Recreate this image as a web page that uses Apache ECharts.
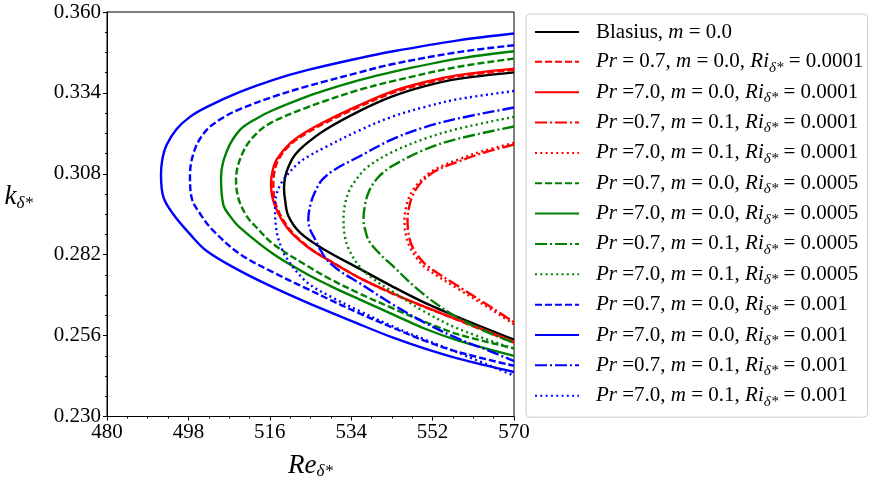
<!DOCTYPE html>
<html>
<head>
<meta charset="utf-8">
<script src="https://cdn.jsdelivr.net/npm/echarts@6/dist/echarts.min.js"></script>
</head>
<body style="margin:0;background:#fff;">
<div id="container" style="width:870px;height:485px;"></div>
<script type="text/javascript">
    // neutral curves, [Re, k] (upper branch -> nose -> lower branch)
    var blasius = [[570, 0.3406], [557.69, 0.3385], [550.32, 0.3362], [542.96, 0.3328], [535.57, 0.3280], [528.21, 0.3221], [524.01, 0.3176], [521.58, 0.3141], [520.25, 0.3107], [519.43, 0.3072], [519.14, 0.3033],
        [519.36, 0.2998], [520.09, 0.2945], [522.68, 0.2891], [528.21, 0.2835], [535.57, 0.2777], [542.96, 0.2719], [550.32, 0.2665], [557.69, 0.2619], [570, 0.2547]];
    var pr07m0ri1 = [[570, 0.3414], [557.69, 0.3393], [550.32, 0.3370], [542.96, 0.3339], [535.57, 0.3294], [528.21, 0.3243], [524.16, 0.3211], [520.47, 0.3173], [517.93, 0.3126], [517.04, 0.3088], [516.78, 0.3043],
        [517.48, 0.2976], [520.47, 0.2900], [524.89, 0.2841], [528.54, 0.2807], [535.64, 0.2747], [543.09, 0.2695], [550.43, 0.2651], [557.73, 0.2609], [570, 0.2537]];
    var pr7m0ri1 = [[570, 0.3418], [557.69, 0.3397], [550.32, 0.3375], [542.96, 0.3344], [535.57, 0.3299], [528.21, 0.3248], [524.16, 0.3216], [520.47, 0.3178], [517.53, 0.3126], [516.60, 0.3088], [516.27, 0.3046],
        [517.15, 0.2977], [520.09, 0.2902], [524.52, 0.2843], [528.21, 0.2809], [535.51, 0.2748], [543.02, 0.2697], [550.32, 0.2652], [557.62, 0.2611], [570, 0.2540]];
    var pr07m1ri1 = [[570, 0.3174], [563.81, 0.3150], [557.95, 0.3121], [552.53, 0.3088], [549.22, 0.3048], [547.56, 0.3009], [546.78, 0.2972], [546.45, 0.2931],
        [546.67, 0.2889], [547.34, 0.2852], [548.78, 0.2816], [550.99, 0.2782], [558.06, 0.2715], [565.36, 0.2647], [570, 0.2603]];
    var pr7m1ri1 = [[570, 0.3179], [563.59, 0.3155], [557.69, 0.3126], [552.16, 0.3091], [548.78, 0.3049], [547.0, 0.3011], [546.12, 0.2972], [545.79, 0.2931],
        [546.01, 0.2889], [546.78, 0.2851], [548.33, 0.2812], [550.54, 0.2777], [557.69, 0.2710], [565.07, 0.2643], [570, 0.2596]];
    var pr07m0ri5 = [[570, 0.3450], [557.69, 0.3424], [542.96, 0.3377], [535.57, 0.3349], [528.21, 0.3314], [524.16, 0.3293], [516.78, 0.3248], [513.10, 0.3210], [510.14, 0.3152], [508.53, 0.3062],
        [509.04, 0.3002], [510.89, 0.2944], [513.10, 0.2907], [516.78, 0.2854], [524.16, 0.2785], [529.31, 0.2742], [535.57, 0.2697], [542.96, 0.2649], [550.32, 0.2604], [557.69, 0.2564], [570, 0.2519]];
    var pr7m0ri5 = [[570, 0.3474], [557.69, 0.3450], [542.96, 0.3407], [535.57, 0.3380], [528.21, 0.3348], [524.16, 0.3328], [516.78, 0.3285], [513.10, 0.3258], [509.41, 0.3221], [506.47, 0.3152], [505.21, 0.3068],
        [505.72, 0.2981], [507.20, 0.2944], [509.41, 0.2907], [516.78, 0.2822], [524.16, 0.2758], [529.31, 0.2720], [535.57, 0.2678], [542.96, 0.2630], [550.32, 0.2582], [557.69, 0.2544], [570, 0.2495]];
    var pr07m1ri5 = [[570, 0.3232], [557.69, 0.3193], [550.32, 0.3158], [542.96, 0.3104], [539.93, 0.3068], [537.94, 0.3024], [537.05, 0.2979], [536.72, 0.2934],
        [537.05, 0.2902], [537.94, 0.2864], [540.37, 0.2822], [542.96, 0.2787], [548.84, 0.2707], [555.48, 0.2636], [562.86, 0.2579], [570, 0.2537]];
    var pr7m1ri5 = [[570, 0.3263], [557.69, 0.3225], [550.32, 0.3193], [542.96, 0.3149], [537.43, 0.3100], [534.84, 0.3056], [533.52, 0.3024], [532.63, 0.2982], [532.30, 0.2934],
        [532.52, 0.2886], [533.29, 0.2844], [535.57, 0.2787], [538.89, 0.2742], [542.96, 0.2703], [550.32, 0.2636], [557.69, 0.2582], [570, 0.2518]];
    var pr07m0ri10 = [[570, 0.3493], [557.69, 0.3471], [542.96, 0.3432], [535.57, 0.3405], [528.21, 0.3377], [524.16, 0.3361], [516.78, 0.3328], [509.41, 0.3288], [505.72, 0.3261], [502.05, 0.3221], [499.46, 0.3160], [498.35, 0.3075],
        [498.73, 0.3002], [500.94, 0.2944], [503.51, 0.2897], [509.41, 0.2822], [516.78, 0.2763], [524.16, 0.2711], [528.76, 0.2679], [535.57, 0.2633], [542.96, 0.2587], [550.32, 0.2543], [557.69, 0.2507], [570, 0.2463]];
    var pr7m0ri10 = [[570, 0.3531], [557.71, 0.3509], [543.02, 0.3473], [535.59, 0.3451], [524.23, 0.3413], [516.80, 0.3382], [509.41, 0.3343], [502.12, 0.3295], [498.35, 0.3263], [495.41, 0.3224], [493.20, 0.3173], [492.23, 0.3126], [491.94, 0.3078],
        [492.49, 0.3004], [494.66, 0.2950], [498.35, 0.2886], [502.05, 0.2832], [509.41, 0.2768], [516.78, 0.2715], [524.16, 0.2667], [535.57, 0.2598], [542.96, 0.2555], [550.32, 0.2518], [557.69, 0.2486], [570, 0.2443]];
    var pr07m1ri10 = [[570, 0.3293], [557.69, 0.3258], [550.32, 0.3230], [542.96, 0.3190], [535.57, 0.3134], [530.42, 0.3094], [527.48, 0.3059], [525.78, 0.3014], [525.0, 0.2982], [524.52, 0.2934],
        [524.89, 0.2902], [525.78, 0.2876], [527.10, 0.2838], [528.65, 0.2803], [531.53, 0.2767], [535.57, 0.2731], [542.96, 0.2662], [550.32, 0.2601], [557.69, 0.2550], [565.07, 0.2508], [570, 0.2478]];
    var pr7m1ri10 = [[570, 0.3346], [557.69, 0.3320], [550.32, 0.3295], [542.96, 0.3263], [535.57, 0.3218], [528.21, 0.3165], [524.89, 0.3139], [522.24, 0.3113], [519.59, 0.3072], [518.27, 0.3043], [517.48, 0.3014], [517.15, 0.2976],
        [517.37, 0.2908], [518.04, 0.2864], [519.59, 0.2812], [524.16, 0.2732], [530.04, 0.2681], [535.57, 0.2641], [542.96, 0.2591], [550.32, 0.2547], [557.69, 0.2505], [570, 0.2431]];

    var curveNames = [
        'Blasius, m = 0.0',
        'Pr = 0.7, m = 0.0, Riδ* = 0.0001',
        'Pr =7.0, m = 0.0, Riδ* = 0.0001',
        'Pr =0.7, m = 0.1, Riδ* = 0.0001',
        'Pr =7.0, m = 0.1, Riδ* = 0.0001',
        'Pr =0.7, m = 0.0, Riδ* = 0.0005',
        'Pr =7.0, m = 0.0, Riδ* = 0.0005',
        'Pr =0.7, m = 0.1, Riδ* = 0.0005',
        'Pr =7.0, m = 0.1, Riδ* = 0.0005',
        'Pr =0.7, m = 0.0, Riδ* = 0.001',
        'Pr =7.0, m = 0.0, Riδ* = 0.001',
        'Pr =0.7, m = 0.1, Riδ* = 0.001',
        'Pr =7.0, m = 0.1, Riδ* = 0.001'
    ];
    var curveData = [blasius, pr07m0ri1, pr7m0ri1, pr07m1ri1, pr7m1ri1, pr07m0ri5, pr7m0ri5, pr07m1ri5, pr7m1ri5, pr07m0ri10, pr7m0ri10, pr07m1ri10, pr7m1ri10];
    var curveColors = ['#000000', '#ff0000', '#ff0000', '#ff0000', '#ff0000', '#008000', '#008000', '#008000', '#008000', '#0000ff', '#0000ff', '#0000ff', '#0000ff'];
    var curveDash = ['solid', 'dashed', 'solid', 'dashdot', 'dotted', 'dashed', 'solid', 'dashdot', 'dotted', 'dashed', 'solid', 'dashdot', 'dotted'];

    var dashes = {
        solid: 'solid',
        dashed: [7, 3],
        dashdot: [12, 3, 2, 3],
        dotted: [2, 3.3]
    };
    var serif = 'Liberation Serif';

    var dom = document.getElementById('container');
    var myChart = echarts.init(dom, null, { renderer: 'canvas' });

    var series = [];
    for (var i = 0; i < curveData.length; i++) {
        series.push({
            name: curveNames[i],
            type: 'line',
            data: curveData[i],
            symbol: 'none',
            showSymbol: false,
            smooth: 0.35,
            animation: false,
            lineStyle: { color: curveColors[i], width: 2.4, type: dashes[curveDash[i]], cap: 'butt' },
            itemStyle: { color: curveColors[i] }
        });
    }

    var option = {
        animation: false,
        grid: {
            left: 107, right: 356, top: 12, bottom: 67,
            show: true, borderColor: '#000', borderWidth: 1
        },
        xAxis: {
            type: 'value',
            min: 480, max: 570, interval: 18,
            name: '{i|Re}{s|δ*}',
            nameLocation: 'middle',
            nameGap: 34,
            nameTextStyle: {
                rich: {
                    i: { fontFamily: serif, fontStyle: 'italic', fontSize: 27, lineHeight: 30, color: '#000' },
                    s: { fontFamily: serif, fontStyle: 'italic', fontSize: 17, lineHeight: 18, padding: [12, 0, 0, 0], color: '#000' }
                }
            },
            axisLine: { show: true, lineStyle: { color: '#000', width: 1 } },
            axisTick: { show: true, length: 4, lineStyle: { color: '#000' } },
            minorTick: { show: true, splitNumber: 4, length: 2, lineStyle: { color: '#000' } },
            splitLine: { show: false },
            axisLabel: { fontFamily: serif, fontSize: 21, color: '#000', margin: 5 }
        },
        yAxis: {
            type: 'value',
            min: 0.230, max: 0.360, interval: 0.026,
            name: '{i|k}{s|δ*}',
            nameLocation: 'middle',
            nameRotate: 0,
            nameGap: 74,
            nameTextStyle: {
                padding: [0, 0, 34, 0],
                rich: {
                    i: { fontFamily: serif, fontStyle: 'italic', fontSize: 27, lineHeight: 30, color: '#000' },
                    s: { fontFamily: serif, fontStyle: 'italic', fontSize: 17, lineHeight: 18, padding: [12, 0, 0, 0], color: '#000' }
                }
            },
            axisLine: { show: true, lineStyle: { color: '#000', width: 1 } },
            axisTick: { show: true, length: 4, lineStyle: { color: '#000' } },
            minorTick: { show: true, splitNumber: 4, length: 2, lineStyle: { color: '#000' } },
            splitLine: { show: false },
            axisLabel: {
                fontFamily: serif, fontSize: 21, color: '#000', margin: 6,
                formatter: function (v) { return v.toFixed(3); }
            }
        },
        legend: {
            orient: 'vertical',
            left: 526,
            top: 14,
            padding: [5, 4, 8, 8],
            itemGap: 3.35,
            itemWidth: 44,
            itemHeight: 14,
            selectedMode: false,
            borderColor: '#cccccc',
            borderWidth: 1,
            borderRadius: 4,
            backgroundColor: '#fff',
            itemStyle: { opacity: 0 },
            data: curveNames,
            formatter: function (name) {
                return name.replace('Pr', '{i|Pr}').replace(' m ', ' {i|m} ').replace('Riδ*', '{i|Ri}{s|δ*}');
            },
            textStyle: {
                fontFamily: serif, fontSize: 21, color: '#000', lineHeight: 26,
                padding: [0, 0, 0, 12],
                rich: {
                    i: { fontFamily: serif, fontStyle: 'italic', fontSize: 21, lineHeight: 26, color: '#000' },
                    s: { fontFamily: serif, fontStyle: 'italic', fontSize: 15, lineHeight: 14, padding: [12, 0, 0, 0], color: '#000' }
                }
            }
        },
        series: series
    };

    myChart.setOption(option);
</script>
</body>
</html>
